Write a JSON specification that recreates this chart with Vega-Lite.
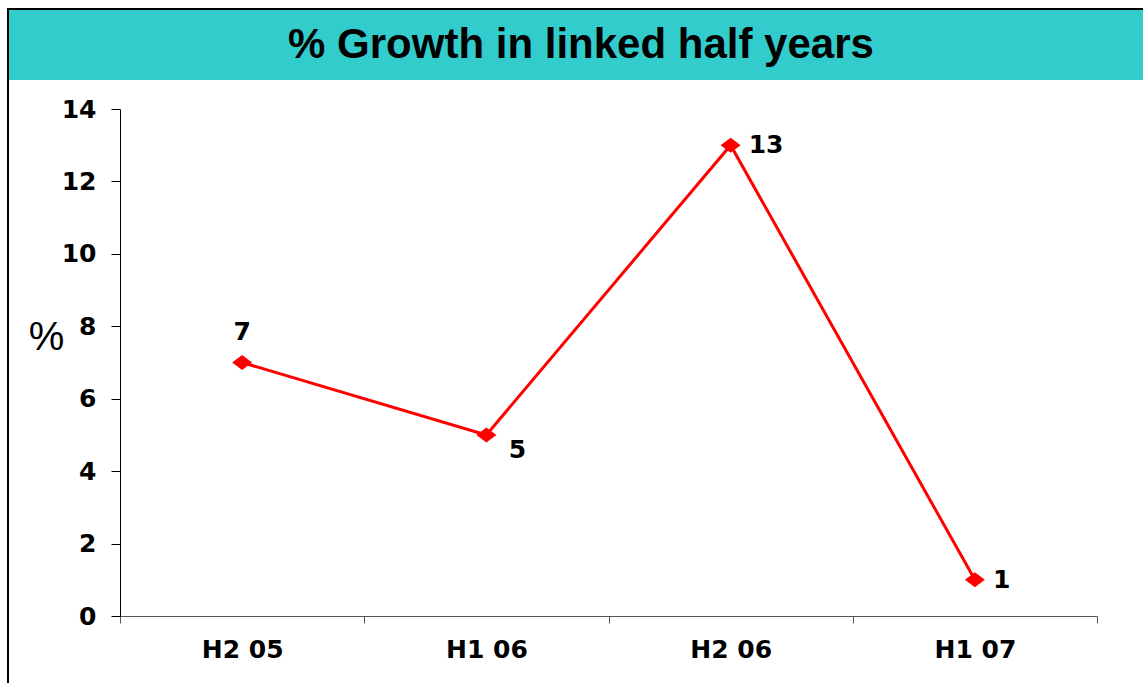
{
  "$schema": "https://vega.github.io/schema/vega-lite/v6.json",
  "padding": {"left": 7, "top": 8, "right": 0, "bottom": 0},
  "background": "white",
  "config": {"view": {"stroke": null}},
  "spacing": 0,
  "hconcat": [
    {
      "width": 2,
      "height": 675,
      "view": {"fill": "#000000", "stroke": null},
      "data": {"values": []},
      "mark": "point"
    },
    {
      "spacing": 17,
      "vconcat": [
        {
          "spacing": 0,
          "vconcat": [
            {
              "width": 1134,
              "height": 2,
              "view": {"fill": "#000000", "stroke": null},
              "data": {"values": []},
              "mark": "point"
            },
            {
              "width": 1134,
              "height": 70,
              "view": {"fill": "#33CCCC", "stroke": null},
              "data": {"values": [{"label": "% Growth in linked half years"}]},
              "mark": {"type": "text", "font": "Liberation Sans", "fontWeight": "bold", "fontSize": 42, "color": "#000000", "align": "center", "baseline": "middle", "dx": 5},
              "encoding": {"text": {"field": "label"}}
            }
          ]
        },
        {
          "width": 1088,
          "height": 507,
          "data": {
            "values": [
              {"period": "H2 05", "growth": 7},
              {"period": "H1 06", "growth": 5},
              {"period": "H2 06", "growth": 13},
              {"period": "H1 07", "growth": 1}
            ]
          },
          "encoding": {
            "x": {
              "field": "period",
              "type": "ordinal",
              "sort": null,
              "bandPosition": 0.5,
              "scale": {"type": "band", "paddingInner": 0, "paddingOuter": 0, "range": [111, 1088]},
              "axis": {
                "title": null,
                "labelAngle": 0,
                "tickBand": "extent",
                "grid": false,
                "domainColor": "#555555",
                "tickColor": "#555555",
                "tickSize": 7,
                "labelFont": "DejaVu Sans",
                "labelFontWeight": "bold",
                "labelFontSize": 25,
                "labelColor": "#000000",
                "labelPadding": 14
              }
            },
            "y": {
              "field": "growth",
              "type": "quantitative",
              "scale": {"domain": [0, 14], "nice": false, "zero": true},
              "axis": {
                "offset": -111,
                "title": "%",
                "titleAngle": 0,
                "titleX": -74,
                "titleY": 228,
                "titleAlign": "center",
                "titleBaseline": "middle",
                "titleFont": "Liberation Sans",
                "titleFontSize": 40,
                "titleFontWeight": "normal",
                "titleColor": "#000000",
                "values": [0, 2, 4, 6, 8, 10, 12, 14],
                "grid": false,
                "domainColor": "#000000",
                "tickColor": "#000000",
                "tickSize": 9,
                "labelPadding": 15,
                "labelFont": "DejaVu Sans",
                "labelFontWeight": "bold",
                "labelFontSize": 25,
                "labelColor": "#000000"
              }
            }
          },
          "layer": [
            {"mark": {"type": "line", "color": "#FF0000", "strokeWidth": 3}},
            {"mark": {"type": "point", "shape": "M-1,0L0,-0.75L1,0L0,0.75Z", "filled": true, "color": "#FF0000", "size": 400, "opacity": 1}},
            {
              "transform": [{"filter": "datum.period === 'H2 05'"}],
              "mark": {"type": "text", "font": "DejaVu Sans", "fontWeight": "bold", "fontSize": 25, "color": "#000000", "align": "center", "baseline": "middle", "dy": -31},
              "encoding": {"text": {"field": "growth"}}
            },
            {
              "transform": [{"filter": "datum.period === 'H1 06'"}],
              "mark": {"type": "text", "font": "DejaVu Sans", "fontWeight": "bold", "fontSize": 25, "color": "#000000", "align": "center", "baseline": "middle", "dx": 31, "dy": 15},
              "encoding": {"text": {"field": "growth"}}
            },
            {
              "transform": [{"filter": "datum.period === 'H2 06' || datum.period === 'H1 07'"}],
              "mark": {"type": "text", "font": "DejaVu Sans", "fontWeight": "bold", "fontSize": 25, "color": "#000000", "align": "left", "baseline": "middle", "dx": 18},
              "encoding": {"text": {"field": "growth"}}
            }
          ]
        }
      ]
    }
  ]
}
